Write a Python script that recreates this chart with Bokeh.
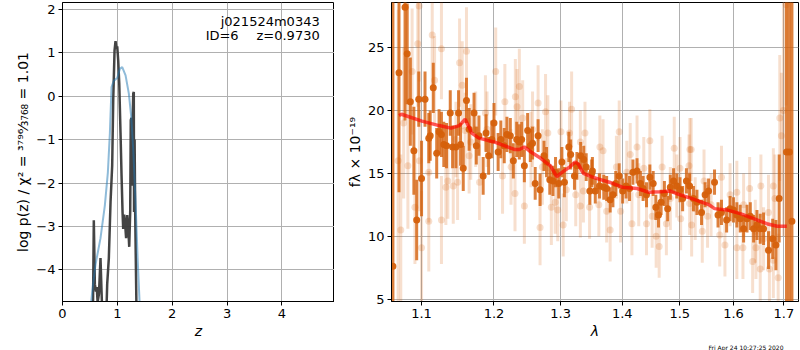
import numpy as np
from bokeh.plotting import figure
from bokeh.layouts import row
from bokeh.models import Range1d, FixedTicker, PrintfTickFormatter, Label, Title
from bokeh.embed import file_html
from bokeh.resources import INLINE

# ---------------- left panel: log p(z) ----------------
z_black = [0.555, 0.571, 0.59, 0.61, 0.625, 0.64, 0.665, 0.693, 0.712, 0.725, 0.80, 0.815,
           0.845, 0.876, 0.906, 0.925, 0.949, 0.967, 0.985, 0.998, 1.016, 1.035, 1.058, 1.077,
           1.095, 1.107, 1.125, 1.144, 1.16, 1.18, 1.20, 1.217, 1.235, 1.245, 1.258, 1.27,
           1.28, 1.29, 1.30, 1.305, 1.315, 1.326, 1.338, 1.35]
logp_black = [-5, -2.86, -4.33, -4.5, -4.4, -4.75, -4.55, -3.73, -4.5, -5, -5, -4.33,
              -3.73, -2.44, -1.6, -0.09, 1.05, 1.27, 1.1, 1.15, 0.82, 0.29, -0.84, -1.83,
              -2.67, -3.06, -2.73, -2.98, -3.27, -2.74, -3.05, -3.47, -2.64, -0.55, -0.5, -2.06,
              -0.55, 0.06, 0.1, -2.67, -1.0, -2.73, -3.88, -5]
z_blue = [0.50, 0.523, 0.56, 0.602, 0.693, 0.772, 0.827, 0.864, 0.894, 0.937, 0.998, 1.046,
          1.089, 1.15, 1.21, 1.253, 1.29, 1.33, 1.37, 1.405, 1.42]
logp_blue = [-5, -4.73, -4.3, -3.88, -3.27, -2.52, -1.76, -0.85, 0.21, 0.36, 0.42, 0.63,
             0.67, 0.48, 0.06, -0.47, -1.23, -2.36, -3.73, -4.73, -5]
z_ticks = [0, 1, 2, 3, 4]
logp_ticks = [-4, -3, -2, -1, 0, 1, 2]

# ---------------- right panel: spectrum ----------------
lam_dark = [1.0628, 1.0706, 1.0784, 1.0812, 1.0853, 1.0899, 1.0936, 1.0963, 1.100, 1.1046,
            1.1096, 1.1115, 1.1156, 1.1202, 1.1234, 1.1266, 1.1298, 1.1335, 1.1386, 1.1418,
            1.1464, 1.150, 1.1528, 1.1565, 1.161, 1.1647, 1.1716, 1.1748, 1.1785, 1.1845,
            1.1886, 1.1923, 1.1969, 1.200, 1.206, 1.2099, 1.2149, 1.2188, 1.2238, 1.2282,
            1.2332, 1.2371, 1.2406, 1.2446, 1.2495, 1.2535, 1.2569, 1.2609, 1.2653, 1.2683,
            1.2743, 1.2782, 1.2832, 1.2881, 1.2921, 1.297, 1.302, 1.3059, 1.3129, 1.3158,
            1.3218, 1.3257, 1.3317, 1.3366, 1.3406, 1.3465, 1.3495, 1.3506, 1.3553, 1.3622,
            1.3692, 1.3739, 1.3797, 1.3843, 1.389, 1.3948, 1.4006, 1.4064, 1.4122, 1.418,
            1.425, 1.4308, 1.4354, 1.4413, 1.4471, 1.4529, 1.4575, 1.4622, 1.4668, 1.4726,
            1.4784, 1.4831, 1.4889, 1.4947, 1.5005, 1.5052, 1.5121, 1.5179, 1.5249, 1.5313,
            1.5398, 1.5464, 1.5529, 1.564, 1.5706, 1.5771, 1.5869, 1.5935, 1.600, 1.6065,
            1.6131, 1.6196, 1.6262, 1.6327, 1.6392, 1.6458, 1.6523, 1.6589, 1.6687, 1.6772,
            1.6837, 1.6903, 1.7053, 1.7112, 1.7164]
flux_dark = [7.62, 23.0, 28.2, 24.5, 20.7, 16.8, 11.3, 20.9, 14.6, 20.9,
             17.8, 18.0, 21.8, 16.6, 18.3, 18.1, 17.3, 17.2, 19.8, 17.1,
             17.1, 19.8, 17.3, 15.4, 20.8, 18.5, 19.8, 17.2, 18.0, 14.8,
             18.2, 16.4, 17.7, 19.0, 16.7, 17.7, 17.2, 18.1, 18.0, 16.0,
             17.7, 17.5, 17.7, 15.6, 18.4, 17.2, 17.4, 14.2, 18.0, 13.7,
             16.4, 15.9, 14.5, 14.4, 15.1, 14.2, 15.9, 14.3, 17.1, 16.5,
             14.8, 15.6, 16.4, 16.1, 15.5, 13.6, 15.0, 15.2, 13.6, 14.0,
             13.9, 13.8, 12.9, 13.3, 14.2, 14.8, 13.6, 14.0, 13.8, 15.1,
             15.2, 14.2, 13.8, 13.3, 14.7, 14.2, 12.3, 11.7, 12.7, 13.4,
             12.2, 13.9, 14.4, 14.0, 13.7, 13.0, 14.4, 14.0, 13.0, 12.7,
             11.9, 13.3, 13.6, 14.3, 11.7, 11.9, 11.3, 12.2, 12.1, 11.7,
             11.4, 10.6, 11.4, 11.6, 10.6, 10.9, 10.6, 10.6, 8.9, 9.8,
             9.3, 13.0, 16.7, 16.7, 11.2]
err_dark = [30, 9.5, 9, 4, 3.5, 3.5, 3.2, 2.2, 3.0, 2.2,
            2.0, 2.0, 2.0, 2.0, 1.8, 1.8, 1.8, 1.8, 1.8, 1.7,
            1.7, 1.8, 1.7, 1.8, 1.8, 1.7, 1.6, 1.5, 1.6, 1.5,
            1.5, 1.5, 1.5, 1.6, 1.5, 1.5, 1.4, 1.4, 1.4, 1.4,
            1.4, 1.4, 1.4, 1.3, 1.4, 1.3, 1.3, 1.3, 1.3, 1.3,
            1.2, 1.2, 1.2, 1.2, 1.2, 1.2, 1.2, 1.2, 1.2, 1.2,
            1.1, 1.1, 1.1, 1.1, 1.1, 1.1, 1.1, 1.1, 1.0, 1.0,
            1.0, 1.0, 1.0, 1.0, 1.0, 1.0, 1.0, 1.0, 1.0, 1.0,
            1.0, 1.0, 1.0, 1.0, 1.0, 1.0, 1.0, 1.0, 1.0, 1.0,
            1.0, 1.0, 1.0, 1.0, 1.0, 1.0, 1.0, 1.0, 1.0, 1.0,
            1.0, 1.0, 1.0, 1.0, 1.0, 1.0, 1.0, 1.0, 1.0, 1.0,
            1.1, 1.1, 1.1, 1.1, 1.1, 1.2, 1.2, 1.3, 1.5, 1.6,
            2.0, 3.5, 14, 14, 20]

lam_light = [1.0695, 1.0729, 1.0766, 1.0821, 1.0876, 1.0913, 1.095, 1.0968, 1.0972, 1.100,
             1.1096, 1.1096, 1.1142, 1.1174, 1.1266, 1.1266, 1.1326, 1.1353, 1.1427, 1.1464,
             1.1487, 1.1514, 1.1551, 1.1592, 1.161, 1.1647, 1.167, 1.1739, 1.1794, 1.1877,
             1.190, 1.2025, 1.2124, 1.2158, 1.2248, 1.2307, 1.2312, 1.2337, 1.2371, 1.2421,
             1.2446, 1.2545, 1.2569, 1.2653, 1.2683, 1.2718, 1.2767, 1.2802, 1.2856, 1.2916,
             1.2955, 1.3005, 1.304, 1.3089, 1.3139, 1.3173, 1.3238, 1.3312, 1.3312, 1.3361,
             1.3386, 1.346, 1.3611, 1.3628, 1.368, 1.3739, 1.3797, 1.3901, 1.3948, 1.3971,
             1.4076, 1.4134, 1.4163, 1.425, 1.4279, 1.4366, 1.4413, 1.4471, 1.4511, 1.4581,
             1.4634, 1.4686, 1.4761, 1.4831, 1.4901, 1.4947, 1.5005, 1.5017, 1.5168, 1.518,
             1.5183, 1.5208, 1.5216, 1.5281, 1.5412, 1.5444, 1.551, 1.5575, 1.5738, 1.5771,
             1.5837, 1.5935, 1.6065, 1.6065, 1.6183, 1.6196, 1.6314, 1.6373, 1.6425, 1.6438,
             1.6523, 1.6536, 1.6589, 1.6687, 1.6706, 1.6785, 1.6785, 1.6817, 1.6883, 1.6915,
             1.6948, 1.699, 1.7046]
flux_light = [16.0, 10.5, 19.0, 15.6, 23.1, 12.3, 25.3, 28.3, 16.0, 9.1,
              11.2, 15.1, 26.0, 22.4, 24.9, 11.3, 13.9, 14.4, 14.0, 17.7,
              14.3, 23.8, 22.0, 18.4, 24.7, 16.4, 17.5, 18.5, 14.3, 19.8,
              18.5, 23.1, 14.8, 20.7, 15.5, 13.4, 21.1, 20.3, 21.9, 19.4,
              12.4, 16.9, 18.5, 20.6, 10.7, 15.5, 19.9, 18.2, 12.3, 12.7,
              12.1, 18.3, 10.9, 13.7, 18.2, 20.1, 13.3, 17.5, 12.4, 13.6,
              18.2, 12.3, 12.5, 17.1, 16.8, 12.0, 10.5, 15.5, 18.3, 12.0,
              15.1, 16.5, 11.0, 17.1, 13.3, 15.4, 11.0, 17.6, 11.6, 10.0,
              9.2, 15.5, 11.0, 13.0, 17.0, 14.0, 15.4, 11.4, 15.6, 12.6,
              16.9, 16.9, 10.9, 12.2, 10.4, 14.4, 11.6, 12.5, 10.1, 14.7,
              9.3, 13.3, 9.1, 13.5, 9.1, 12.5, 13.8, 8.0, 10.4, 9.1,
              7.4, 14.0, 9.8, 11.9, 7.4, 8.1, 14.0, 13.0, 6.7, 19.4,
              18.0, 20.0, 28.4]
err_light = [12, 6, 6, 5, 5, 4.5, 5, 6, 4, 4.5,
             4, 4, 4, 3.5, 4, 3.5, 3, 3, 3, 3,
             3, 3.5, 3.5, 3, 3.5, 3, 3, 3, 3, 3,
             3, 3.5, 3, 3, 3, 3, 3, 3, 3, 3,
             3, 3, 3, 3, 3, 3, 3, 3, 3, 2.5,
             2.5, 2.5, 2.5, 2.5, 2.5, 3, 2.5, 2.5, 2.5, 2.5,
             2.5, 2.5, 2.5, 2.5, 2.5, 2.5, 2.5, 2.5, 2.5, 2.5,
             2.5, 2.5, 2.5, 2.5, 2.5, 2.5, 2.5, 2.5, 2.5, 2.5,
             2.5, 2.5, 2.5, 2.5, 2.5, 2.5, 2.5, 2.5, 2.5, 2.5,
             2.5, 2.5, 2.5, 2.5, 2.5, 2.5, 2.5, 2.5, 2.5, 2.5,
             2.5, 2.5, 2.5, 2.5, 2.5, 2.5, 2.5, 2.5, 2.5, 2.5,
             2.5, 2.5, 2.5, 3, 3, 3, 3, 3.5, 3.5, 5,
             5, 10, 8]

lam_model = [1.0706, 1.0738, 1.1005, 1.1234, 1.1395, 1.151, 1.1592, 1.1684, 1.1785, 1.1923,
             1.200, 1.2149, 1.2297, 1.2371, 1.2446, 1.2545, 1.2693, 1.2842, 1.2941, 1.300,
             1.3139, 1.3228, 1.3277, 1.3361, 1.351, 1.3611, 1.3785, 1.400, 1.425, 1.4453,
             1.4657, 1.4831, 1.5005, 1.5249, 1.5346, 1.5542, 1.564, 1.5869, 1.6131, 1.6392,
             1.6654, 1.6863, 1.7059]
flux_model = [19.6, 19.7, 19.15, 18.8, 18.6, 18.8, 19.3, 18.2, 17.8, 17.6,
              17.5, 17.2, 16.9, 16.9, 17.1, 16.7, 16.2, 15.6, 14.75, 15.0,
              15.5, 15.9, 15.75, 15.0, 14.7, 14.55, 14.3, 13.9, 13.8, 13.5,
              13.55, 13.6, 13.3, 12.95, 12.8, 12.5, 12.2, 12.1, 11.8, 11.4,
              11.0, 10.8, 10.8]
lam_ticks = [1.1, 1.2, 1.3, 1.4, 1.5, 1.6, 1.7]
flux_ticks = [5, 10, 15, 20, 25]
stamp = "Fri Apr 24 10:27:25 2020"

FONT = "DejaVu Sans"
ORANGE = "#d5600b"
GRID = "#b0b0b0"
FH = 299


def style(p):
    p.outline_line_color = "black"
    p.outline_line_alpha = 1
    p.outline_line_width = 1
    p.background_fill_color = "white"
    p.border_fill_color = "white"
    for ax in (p.xaxis, p.yaxis):
        ax.axis_line_color = "black"
        ax.major_tick_line_color = "black"
        ax.major_tick_out = 4
        ax.major_tick_in = 0
        ax.minor_tick_line_color = None
        ax.major_label_text_font = FONT
        ax.major_label_text_font_size = "13px"
        ax.major_label_text_color = "black"
        ax.axis_label_text_font = FONT
        ax.axis_label_text_font_size = "14px"
        ax.axis_label_text_color = "black"
        ax.major_label_standoff = 3
        ax.axis_label_standoff = 2
    p.grid.grid_line_color = GRID
    p.grid.grid_line_width = 1


# left figure
p1 = figure(frame_width=272, frame_height=FH, output_backend="svg", toolbar_location=None,
            x_range=Range1d(0, 4.96), y_range=Range1d(-4.73, 2.16),
            min_border_left=62, min_border_right=0, min_border_top=2, min_border_bottom=40)
style(p1)
p1.xaxis.ticker = FixedTicker(ticks=z_ticks)
p1.yaxis.ticker = FixedTicker(ticks=logp_ticks)
p1.yaxis.major_label_overrides = {t: (("\u2212" + str(abs(t))) if t < 0 else str(t)) for t in logp_ticks}
p1.xaxis.axis_label = "z"
p1.xaxis.axis_label_text_font_style = "italic"
p1.yaxis.axis_label = "log p(z) / \u03c7\u00b2 = \u00b3\u2077\u2079\u2076\u2044\u2083\u2087\u2086\u2088 = 1.01"
p1.yaxis.axis_label_text_font_style = "normal"

p1.line(z_black, logp_black, line_color="#3a3a3a", line_width=2.5, line_alpha=0.95)
p1.line(z_blue, logp_blue, line_color="#1f77b4", line_width=2, line_alpha=0.5)

for txt, x, y, al in [("j021524m0343", 4.69, 1.73, "right"),
                      ("ID=6", 2.61, 1.40, "left"),
                      ("z=0.9730", 4.69, 1.40, "right")]:
    p1.add_layout(Label(x=x, y=y, text=txt, text_align=al, text_baseline="middle",
                        text_font=FONT, text_font_size="13px", text_color="black"))

# right figure
p2 = figure(frame_width=407, frame_height=FH, output_backend="svg", toolbar_location=None,
            x_axis_type="log", x_range=Range1d(1.061, 1.730), y_range=Range1d(4.82, 28.58),
            min_border_left=57, min_border_right=1, min_border_top=2, min_border_bottom=30)
style(p2)
p2.xaxis.ticker = FixedTicker(ticks=lam_ticks)
p2.xaxis.formatter = PrintfTickFormatter(format="%.1f")
p2.yaxis.ticker = FixedTicker(ticks=flux_ticks)
p2.xaxis.axis_label = "\u03bb"
p2.xaxis.axis_label_text_font_style = "italic"
p2.yaxis.axis_label = "f\u03bb \u00d7 10\u207b\u00b9\u2079"
p2.yaxis.axis_label_text_font_style = "normal"

ld = np.array(lam_dark); fd = np.array(flux_dark); ed = np.array(err_dark)
ll = np.array(lam_light); fl = np.array(flux_light); el = np.array(err_light)

p2.segment(ll, fl - el, ll, fl + el, line_color=ORANGE, line_alpha=0.2, line_width=3)
p2.scatter(ll, fl, size=7, fill_color=ORANGE, fill_alpha=0.2, line_color=None)
p2.segment(ld, fd - ed, ld, fd + ed, line_color=ORANGE, line_alpha=0.8, line_width=3)
p2.scatter(ld, fd, size=7, fill_color=ORANGE, fill_alpha=0.95, line_color=None)
p2.line(lam_model, flux_model, line_color="red", line_alpha=0.65, line_width=3.5)

p2.add_layout(Title(text=stamp, align="right", text_font=FONT, text_font_size="6px",
                    text_font_style="normal", text_color="black", standoff=0, offset=15), "below")

layout = row(p1, p2, spacing=0)
open("out.html", "w").write(file_html(layout, INLINE))
